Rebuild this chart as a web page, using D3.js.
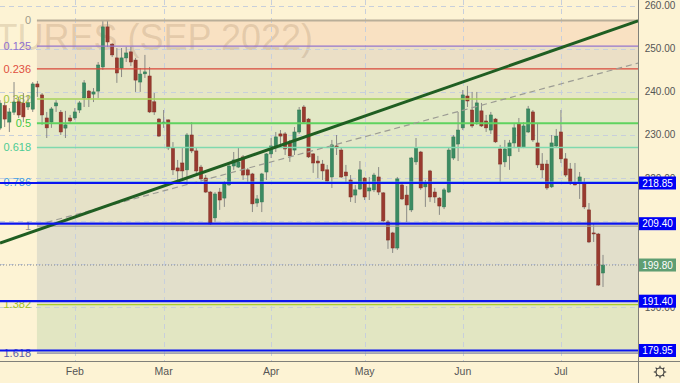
<!DOCTYPE html>
<html><head><meta charset="utf-8">
<script src="https://cdn.jsdelivr.net/npm/d3@7"></script>
<style>body{margin:0;background:#fdf3d4;}svg{display:block;font-family:"Liberation Sans",Arial,sans-serif;}</style>
</head><body><svg id="c" width="680" height="383"></svg>
<script>
// ---- data ----
const opens = [231.6,236.8,233.0,235.3,237.7,237.4,236.5,236.0,241.85,239.3,233.95,233.0,236.75,235.3,231.6,233.95,233.95,235.8,238.6,240.2,239.5,240.2,245.8,255.1,251.1,247.9,245.55,247.9,249.3,247.4,242.3,244.2,243.7,237.7,233.7,232.8,233.5,227.0,222.35,223.5,221.9,230.0,226.3,222.55,220.0,216.75,210.75,216.75,215.35,218.4,222.8,222.55,224.9,221.9,220.95,214.2,214.45,221.4,225.6,227.0,230.25,230.25,228.15,226.5,230.7,236.5,233.7,225.6,223.95,223.25,221.9,220.25,227.45,226.5,221.4,219.55,216.05,217.45,220.0,217.0,217.25,220.25,216.55,209.8,207.25,203.75,218.4,216.05,212.6,223.75,226.05,217.95,221.65,216.75,215.35,213.3,216.75,224.65,227.9,231.65,239.05,235.8,233.0,235.6,233.25,231.15,233.7,226.75,223.75,225.15,228.15,232.55,227.2,230.7,235.35,228.15,223.25,223.25,217.95,227.45,230.7,224.45,222.1,218.85,218.85,218.85,212.6,207.25,207.0,197.95];
const highs = [238.1,237.65,236.25,242.3,238.85,239.75,239.3,242.3,242.55,239.75,235.35,236.5,238.1,235.8,235.6,234.65,236.25,237.9,242.75,240.45,240.9,246.95,256.7,256.5,251.35,250.2,250.2,250.45,250.45,247.9,245.55,248.6,245.8,239.75,233.95,235.8,233.6,228.35,224.2,227.0,230.45,233.0,227.0,223.05,220.7,217.0,216.75,217.7,219.3,223.5,226.05,227.0,225.35,222.35,221.2,216.05,221.2,225.8,229.3,230.7,231.15,230.7,228.85,231.85,236.5,236.95,233.95,225.8,225.15,224.2,223.05,228.85,230.0,227.0,223.05,220.7,218.4,223.95,220.25,220.25,221.2,222.55,216.75,210.25,207.5,220.25,218.85,218.15,224.9,229.3,226.3,219.55,221.9,217.7,215.6,217.7,227.0,230.0,235.35,240.45,241.4,240.0,240.0,237.45,234.65,235.35,233.95,227.7,228.85,228.85,232.8,233.95,233.0,236.75,235.8,232.55,225.8,224.2,230.0,231.4,235.8,225.8,223.5,223.5,221.4,220.0,214.2,209.55,207.25,202.15];
const lows = [231.15,231.85,230.7,234.65,233.95,233.0,235.8,235.35,238.85,232.35,229.3,231.65,235.35,230.0,229.3,232.8,233.5,235.1,236.5,236.5,237.65,238.6,245.1,250.45,248.1,242.1,243.45,246.95,246.0,240.0,240.0,243.25,235.1,234.65,229.55,231.65,226.5,220.7,219.1,220.0,219.1,225.8,220.7,219.1,216.55,209.1,209.8,212.6,213.3,218.15,221.9,222.35,219.55,218.85,212.1,213.3,212.1,219.55,224.65,226.05,227.2,225.35,223.75,225.35,230.25,232.8,224.65,221.2,220.0,219.55,218.85,217.7,225.35,220.0,219.1,214.45,214.2,217.25,214.9,214.9,216.75,216.05,209.8,203.55,202.6,203.3,214.9,209.8,212.1,223.05,217.25,213.3,214.45,214.2,211.45,212.8,216.55,224.2,223.95,231.15,236.5,231.65,232.35,231.85,230.7,230.25,228.15,219.1,222.55,221.9,226.95,226.05,226.95,230.45,228.4,222.35,220.0,217.25,217.7,227.2,223.5,220.25,218.4,218.3,215.15,212.8,204.9,205.15,194.95,194.7];
const closes = [237.4,233.7,235.35,237.65,234.65,234.2,237.45,241.85,241.15,234.65,231.65,236.05,237.45,230.7,232.35,233.25,235.35,237.45,242.1,238.6,240.0,246.25,255.1,251.6,248.6,244.4,247.9,249.05,246.95,242.75,244.15,244.65,235.35,235.35,229.75,233.0,227.0,221.9,221.65,221.65,230.0,226.3,221.65,219.8,216.75,209.35,216.3,214.9,218.65,222.8,224.2,223.75,220.7,220.7,214.0,215.15,220.95,225.6,227.45,229.55,229.75,226.75,225.15,230.7,235.8,233.0,224.9,223.5,223.5,221.65,219.3,227.7,227.0,220.25,220.5,215.6,217.25,221.9,215.6,217.7,220.7,216.75,210.05,205.6,203.75,219.8,215.15,213.75,224.65,227.0,217.7,218.85,215.6,215.6,213.5,217.25,226.5,229.55,231.15,239.3,237.9,232.1,237.45,232.1,231.65,234.65,228.4,223.25,226.75,228.15,231.65,227.2,232.1,236.05,228.85,223.05,221.9,217.7,228.15,229.75,224.45,220.7,218.85,218.4,220.25,213.3,205.15,207.15,195.15,199.8];

const monthLabels = ["Feb","Mar","Apr","May","Jun","Jul"];
const monthBars = [16,35,58,78,99,120];           // bar index of first session of each month
const priceTicks = [260,250,240,230,220,210,200,190,180];
const fibLevels = [0,0.125,0.236,0.382,0.5,0.618,0.786,1,1.382,1.618];
const fibLabels = ["0","0.125","0.236","0.382","0.5","0.618","0.786","1","1.382","1.618"];
const fibHigh = 256.6, fibLow = 208.85, fibStartBar = 7.9;
const levelLines = [218.85, 209.40, 191.40, 179.95];
const levelLabels = ["218.85","209.40","191.40","179.95"];
const lastPrice = 199.80, lastLabel = "199.80";
const trendMain = [[0,204.9],[136.5,256.5]];      // [bar, price]
const trendDashed = [[7.9,209.1],[136.5,246.7]];
const watermark = "COFFEE FUTURES (SEP 2022)";

// ---- styles ----
const fibLineColors = ["#b9ae98","#9575cd","#d9473a","#a6d25a","#5fd35f","#7fd9ae","#4aa3e6","#a3a09a","#a9cc2e","#8686a8"];
const fibTextColors = ["#a09a8a","#8e70d0","#e05040","#9ec43a","#44c844","#4ccb95","#3d9de6","#909090","#a2c224","#5a5aa6"];
const fibBandColors = ["#f9e1c2","#ebdfc6","#e6e6c6","#e2e8c6","#e2e8c8","#e4e6c8","#e6e2c8","#e2dfcb","#e2e6c2"];

const W = 680, H = 383, PR = 638.5, PB = 361;
const svg = d3.select("#c");
const x = d3.scaleLinear().domain([0,129]).range([0,603]);
const y = d3.scaleLinear().domain([177.51,261.35]).range([PB,0]);

svg.append("rect").attr("width",W).attr("height",H).attr("fill","#fdf3d4");

const plot = svg.append("g");
plot.append("clipPath").attr("id","pc").append("rect").attr("x",0).attr("y",0).attr("width",PR).attr("height",PB);
const g = plot.append("g").attr("clip-path","url(#pc)");

const fibPrice = r => fibHigh - r*(fibHigh-fibLow);
const fx0 = x(fibStartBar);

// fib bands
g.selectAll("rect.band").data(d3.range(fibLevels.length-1)).join("rect")
  .attr("x",fx0).attr("width",PR-fx0)
  .attr("y",i=>y(fibPrice(fibLevels[i])))
  .attr("height",i=>y(fibPrice(fibLevels[i+1]))-y(fibPrice(fibLevels[i])))
  .attr("fill",i=>fibBandColors[i]);

// watermark
g.append("text").attr("x",313).attr("y",50).attr("text-anchor","end")
  .attr("font-size",36).attr("fill","rgba(140,105,70,0.2)").text(watermark);

// grid
g.selectAll("line.hg").data(priceTicks).join("line")
  .attr("x1",0).attr("x2",PR).attr("y1",d=>Math.round(y(d))+0.5).attr("y2",d=>Math.round(y(d))+0.5)
  .attr("stroke","#c8cfdb").attr("stroke-dasharray","5,4");
g.selectAll("line.vg").data(monthBars).join("line")
  .attr("y1",0).attr("y2",PB).attr("x1",d=>Math.round(x(d))+0.5).attr("x2",d=>Math.round(x(d))+0.5)
  .attr("stroke","#c8cfdb").attr("stroke-dasharray","5,4");

// fib labels
g.selectAll("text.fl").data(fibLevels).join("text")
  .attr("x",31).attr("y",d=>y(fibPrice(d))+3.8).attr("text-anchor","end")
  .attr("font-size",11).attr("fill",(d,i)=>fibTextColors[i]).text((d,i)=>fibLabels[i]);

// candles
const idx = d3.range(opens.length);
g.selectAll("line.wick").data(idx).join("line")
  .attr("x1",i=>x(i)).attr("x2",i=>x(i)).attr("y1",i=>y(highs[i])).attr("y2",i=>y(lows[i]))
  .attr("stroke","#8a8a86").attr("stroke-width",1);
g.selectAll("rect.body").data(idx).join("rect")
  .attr("x",i=>x(i)-1.6).attr("width",3.2)
  .attr("y",i=>y(Math.max(opens[i],closes[i])))
  .attr("height",i=>Math.max(1,Math.abs(y(opens[i])-y(closes[i]))))
  .attr("fill",i=>closes[i]>=opens[i]?"#3b8b62":"#993a2f")
  .attr("stroke",i=>closes[i]>=opens[i]?"#2f7752":"#7e2c22").attr("stroke-width",0.5);

// fib lines
g.selectAll("line.fib").data(fibLevels).join("line")
  .attr("x1",fx0).attr("x2",PR).attr("y1",d=>y(fibPrice(d))).attr("y2",d=>y(fibPrice(d)))
  .attr("stroke",(d,i)=>fibLineColors[i]).attr("stroke-width",(d,i)=>i===0?2:(i===4?2:1.3));

// trend lines
const tl = d3.line().x(d=>x(d[0])).y(d=>y(d[1]));
g.append("path").attr("d",tl(trendDashed)).attr("fill","none").attr("stroke","#9c9c94")
  .attr("stroke-width",1.2).attr("stroke-dasharray","6,4");
g.append("path").attr("d",tl(trendMain)).attr("fill","none").attr("stroke","#1f5e22").attr("stroke-width",3);

// horizontal levels
g.selectAll("line.lvl").data(levelLines).join("line")
  .attr("x1",0).attr("x2",PR).attr("y1",d=>y(d)).attr("y2",d=>y(d))
  .attr("stroke","#0a14f0").attr("stroke-width",2.2);

// last price dotted
g.append("line").attr("x1",0).attr("x2",PR).attr("y1",y(lastPrice)).attr("y2",y(lastPrice))
  .attr("stroke","#8a8a8a").attr("stroke-dasharray","1,2");

// axes frame
svg.append("line").attr("x1",PR).attr("x2",PR).attr("y1",0).attr("y2",H).attr("stroke","#80807a");
svg.append("line").attr("x1",0).attr("x2",W).attr("y1",PB+0.5).attr("y2",PB+0.5).attr("stroke","#80807a");

// right axis labels (those fully hidden behind a level box are not drawn)
const boxVals = levelLines.concat([lastPrice]);
const shownTicks = priceTicks.filter(t => !boxVals.some(v => Math.abs(y(v)-y(t)) < 4));
svg.selectAll("text.pt").data(shownTicks).join("text")
  .attr("x",660).attr("y",d=>y(d)+3.5).attr("text-anchor","middle")
  .attr("font-size",10).attr("fill","#555").text(d=>d.toFixed(2));

// level boxes
const boxes = svg.append("g");
levelLines.forEach((v,i)=>{
  boxes.append("rect").attr("x",PR+0.5).attr("y",y(v)-6.5).attr("width",37).attr("height",13).attr("fill","#0000f5");
  boxes.append("text").attr("x",657.5).attr("y",y(v)+3.6).attr("text-anchor","middle")
    .attr("font-size",10).attr("fill","#fff").text(levelLabels[i]);
});
boxes.append("rect").attr("x",PR+0.5).attr("y",y(lastPrice)-6.5).attr("width",37).attr("height",13).attr("fill","#5f9e72");
boxes.append("text").attr("x",657.5).attr("y",y(lastPrice)+3.6).attr("text-anchor","middle")
  .attr("font-size",10).attr("fill","#fff").text(lastLabel);

// month labels
svg.selectAll("text.mt").data(monthBars).join("text")
  .attr("x",d=>x(d)).attr("y",375).attr("text-anchor","middle")
  .attr("font-size",10.5).attr("fill","#555").text((d,i)=>monthLabels[i]);

// settings icon
const gear = svg.append("g").attr("transform","translate(660,372)").attr("stroke","#333").attr("fill","none").attr("stroke-width",1.1);
gear.append("circle").attr("r",4);
d3.range(8).forEach(k=>{
  const a = k*Math.PI/4;
  gear.append("line").attr("x1",4*Math.cos(a)).attr("y1",4*Math.sin(a)).attr("x2",6.2*Math.cos(a)).attr("y2",6.2*Math.sin(a));
});
</script></body></html>
